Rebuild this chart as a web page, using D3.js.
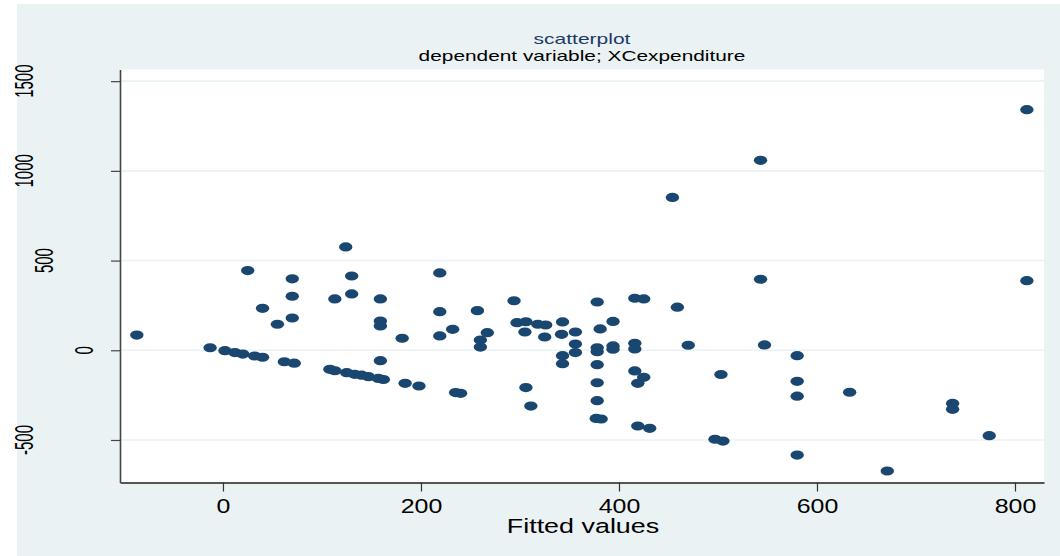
<!DOCTYPE html>
<html>
<head>
<meta charset="utf-8">
<script src="https://cdn.jsdelivr.net/npm/d3@7"></script>
<style>
  body { margin: 0; background: #fff; }
  text { font-family: "Liberation Sans", Arial, sans-serif; }
</style>
</head>
<body>
<div id="svg-container"></div>
<script>
// data
const fittedValues = [
  -87, -13, 2, 12, 20, 32, 40, 62, 72, 25, 70, 70, 40, 55, 70,
  124, 130, 130, 113, 159, 159, 159, 181, 219, 219, 219, 232, 257, 267, 260, 260, 294,
  159, 108, 113, 125, 133, 140, 147, 157, 162, 184, 198, 235, 240,
  297, 306, 305, 318, 326, 325, 343, 342, 356, 356, 356, 343, 343,
  378, 381, 378, 378, 378, 378, 378, 377, 382, 394, 394, 394,
  416, 425, 416, 416, 416, 425, 419, 419, 431, 306, 311,
  459, 470, 503, 497, 505, 812, 543, 543, 812, 547, 580, 580, 580,
  633, 737, 737, 774, 580, 671, 454
];
const expenditure = [
  85, 14, -2, -13, -21, -32, -39, -64, -72, 444, 398, 301, 234, 145, 180,
  576, 414, 314, 286, 286, 163, 136, 67, 431, 215, 80, 117, 221, 98, 57, 18, 276,
  -58, -106, -114, -125, -134, -139, -147, -157, -163, -184, -199, -236, -240,
  154, 159, 102, 145, 141, 74, 158, 89, 102, 35, -13, -30, -75,
  269, 119, 14, -8, -80, -181, -281, -380, -383, 161, 24, 6,
  290, 286, 39, 7, -115, -151, -184, -422, -435, -208, -311,
  240, 28, -135, -496, -506, 1341, 1059, 396, 388, 30, -30, -173, -256,
  -234, -296, -329, -476, -584, -673, 852
];
const xTicks = [0, 200, 400, 600, 800];
const yTicks = [-500, 0, 500, 1000, 1500];
const titleText = "scatterplot";
const subtitleText = "dependent variable; XCexpenditure";
const xTitle = "Fitted values";

const points = fittedValues.map((d, i) => ({ x: d, y: expenditure[i] }));

// svg
const width = 1060;
const height = 556;
const plot = { left: 120, right: 1044, top: 69.5, bottom: 482.5 };

const svg = d3
  .select("#svg-container")
  .append("svg")
  .attr("width", width)
  .attr("height", height);

// backgrounds
svg.append("rect").attr("width", width).attr("height", height).attr("fill", "#fff");
svg
  .append("rect")
  .attr("x", 17)
  .attr("y", 4)
  .attr("width", width - 17)
  .attr("height", height - 4)
  .attr("fill", "#eaf2f3");
svg
  .append("rect")
  .attr("x", plot.left)
  .attr("y", plot.top)
  .attr("width", plot.right - plot.left)
  .attr("height", plot.bottom - plot.top)
  .attr("fill", "#fff");

// scale
const xScale = d3.scaleLinear().domain([-104, 829.3]).range([plot.left, plot.right]);
const yScale = d3.scaleLinear().domain([-737, 1565]).range([plot.bottom, plot.top]);

// grid lines
svg
  .append("g")
  .selectAll("line")
  .data(yTicks)
  .join("line")
  .attr("x1", plot.left)
  .attr("x2", plot.right)
  .attr("y1", (d) => yScale(d))
  .attr("y2", (d) => yScale(d))
  .attr("stroke", "#eaf2f3")
  .attr("stroke-width", 1.6);

// x axis
const xAxis = d3.axisBottom(xScale).tickValues(xTicks).tickSize(9).tickSizeOuter(0);
svg
  .append("g")
  .attr("class", "x-axis")
  .attr("transform", `translate(0, ${plot.bottom})`)
  .call(xAxis)
  .call((g) => g.select(".domain").attr("stroke", "#222").attr("stroke-width", 1.4))
  .call((g) => g.selectAll(".tick line").attr("stroke", "#333").attr("stroke-width", 1.2))
  .call((g) =>
    g
      .selectAll(".tick text")
      .attr("y", 30.5)
      .attr("dy", 0)
      .attr("fill", "#000")
      .attr("font-size", 19.5)
      .attr("transform", "scale(1.28,1)")
  );

// y axis (ticks only, labels drawn rotated below)
const yAxis = d3.axisLeft(yScale).tickValues(yTicks).tickSize(9).tickSizeOuter(0).tickFormat("");
svg
  .append("g")
  .attr("class", "y-axis")
  .attr("transform", `translate(${plot.left},0)`)
  .call(yAxis)
  .call((g) => g.select(".domain").attr("stroke", "#444").attr("stroke-width", 1.6))
  .call((g) => g.selectAll(".tick line").attr("stroke", "#444").attr("stroke-width", 1.2));

// rotated y labels (stata puts shorter labels closer to the axis)
svg
  .append("g")
  .selectAll("text")
  .data(yTicks)
  .join("text")
  .attr("transform", (d) => {
    const s = String(d);
    return `translate(${104 - 20 * s.length}, ${yScale(d)}) rotate(-90) scale(1,1.7)`;
  })
  .attr("text-anchor", "middle")
  .attr("dy", "0.36em")
  .attr("font-size", 15)
  .attr("fill", "#000")
  .text((d) => d);

// points
svg
  .append("g")
  .selectAll("ellipse")
  .data(points)
  .join("ellipse")
  .attr("cx", (d) => xScale(d.x))
  .attr("cy", (d) => yScale(d.y))
  .attr("rx", 6.7)
  .attr("ry", 4.6)
  .attr("fill", "#1a476f");

// titles
const cx = (plot.left + plot.right) / 2;
svg
  .append("text")
  .attr("transform", `translate(${cx}, 44.3) scale(1.5,1)`)
  .attr("text-anchor", "middle")
  .attr("font-size", 14)
  .attr("fill", "#1e3a68")
  .text(titleText);

svg
  .append("text")
  .attr("transform", `translate(${cx}, 60.7) scale(1.49,1)`)
  .attr("text-anchor", "middle")
  .attr("font-size", 14)
  .attr("fill", "#000")
  .text(subtitleText);

svg
  .append("text")
  .attr("transform", `translate(${cx + 1}, 532.5) scale(1.38,1)`)
  .attr("text-anchor", "middle")
  .attr("font-size", 19.5)
  .attr("fill", "#000")
  .text(xTitle);
</script>
</body>
</html>
